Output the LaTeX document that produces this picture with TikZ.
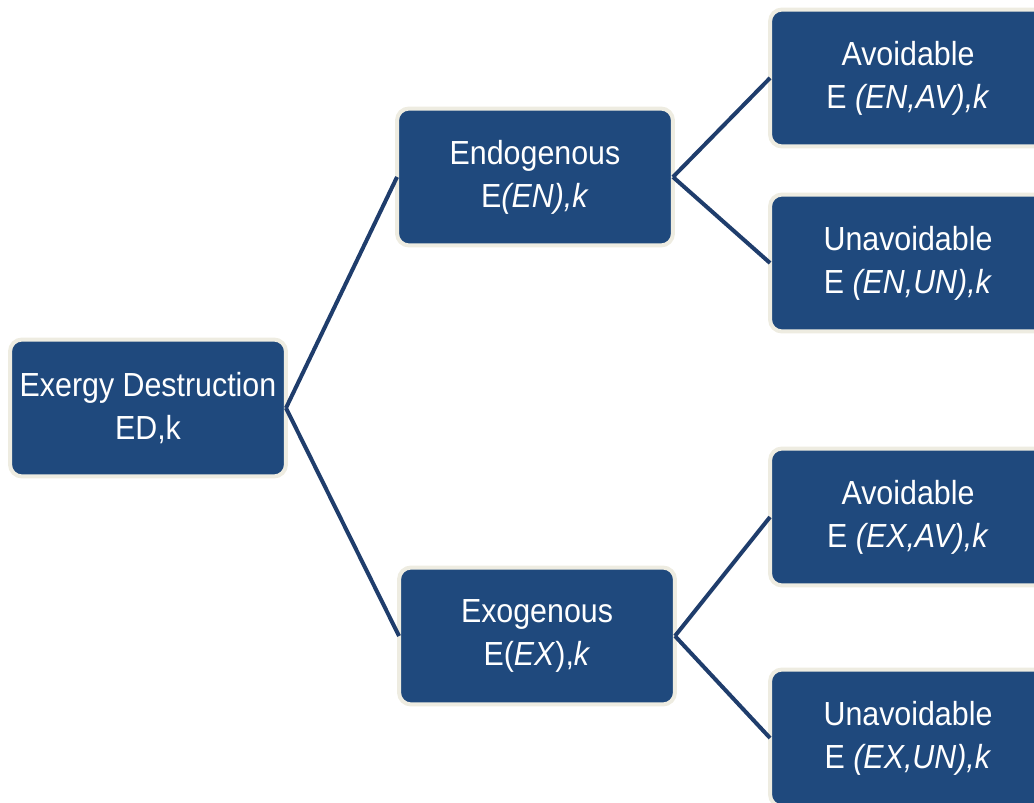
\documentclass[tikz,border=0pt]{standalone}
\usepackage{fontspec}
\setmainfont{Liberation Sans}[FakeStretch=0.91]
\usepackage{xcolor}
\usepackage{tikz}
\usetikzlibrary{positioning}
\definecolor{BoxBlue}{HTML}{1F497D}
\definecolor{BoxRim}{HTML}{EEECE1}
\definecolor{LinkBlue}{HTML}{1F3D6C}

\begin{document}
\begin{tikzpicture}[x=0.02cm, y=-0.02cm,
        part/.style={draw=BoxRim, line width=0.08cm, fill=BoxBlue, rounded corners=0.24cm,
            minimum width=5.52cm, minimum height=2.74cm, text=white, align=center,
            font=\fontsize{19}{24.5}\selectfont, outer sep=0pt},
        link/.style={draw=LinkBlue, line width=0.08cm}]
        \useasboundingbox (0,0) rectangle (1034,803);
        \node[part] (ExDest) at (148, 408) {Exergy Destruction\\ED,k};
        \node[part] (Endo) at (535, 177) {Endogenous\\E\textit{(EN),k}};
        \node[part] (Exo) at (537, 636) {Exogenous\\E(\textit{EX}),\textit{k}};
        \node[part] (EnAv) at (908, 78) {Avoidable\\E \textit{(EN,AV),k}};
        \node[part] (EnUn) at (908, 263) {Unavoidable\\E \textit{(EN,UN),k}};
        \node[part] (ExAv) at (908, 517) {Avoidable\\E \textit{(EX,AV),k}};
        \node[part] (ExUn) at (908, 738) {Unavoidable\\E \textit{(EX,UN),k}};
        \draw[link] (ExDest.east) -- (Endo.west);
        \draw[link] (ExDest.east) -- (Exo.west);
        \draw[link] (Endo.east) -- (EnAv.west);
        \draw[link] (Endo.east) -- (EnUn.west);
        \draw[link] (Exo.east) -- (ExAv.west);
        \draw[link] (Exo.east) -- (ExUn.west);
    \end{tikzpicture}
\end{document}
